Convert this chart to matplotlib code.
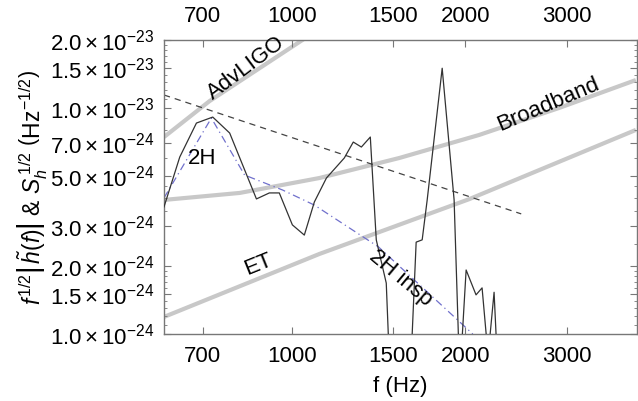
import matplotlib
matplotlib.use("Agg")
import matplotlib.pyplot as plt
from matplotlib.ticker import FixedLocator, FixedFormatter, LogLocator, NullFormatter, NullLocator

plt.rcParams['font.family'] = ['Liberation Sans', 'DejaVu Sans']
plt.rcParams['mathtext.fontset'] = 'custom'
plt.rcParams['mathtext.rm'] = 'Liberation Sans'
plt.rcParams['mathtext.it'] = 'Liberation Sans:italic'
plt.rcParams['mathtext.bf'] = 'Liberation Sans:bold'

# ---- data ----
h2_f = [600, 639, 683, 729, 780, 868, 914, 951, 1002, 1051, 1094, 1148, 1233, 1278, 1320, 1368,
        1401, 1458, 1475, 1611, 1643, 1683, 1717, 1823, 1912, 1950, 1966, 2006, 2087, 2138,
        2190, 2243, 2270]
h2_v = [3.65e-24, 6.07e-24, 8.58e-24, 9.12e-24, 7.75e-24, 3.96e-24, 4.21e-24, 4.21e-24, 3.04e-24,
        2.74e-24, 3.84e-24, 4.90e-24, 6.01e-24, 7.07e-24, 6.72e-24, 7.44e-24,
        2.61e-24, 1.68e-24, 8.0e-25, 8.0e-25, 2.55e-24, 2.61e-24, 3.92e-24, 1.50e-23, 3.92e-24,
        8.0e-25, 8.0e-25, 1.92e-24, 1.49e-24, 1.60e-24, 8.0e-25, 1.53e-24, 8.0e-25]

insp_f = [600, 725, 828, 963, 1094, 1413, 2060]
insp_v = [4.0e-24, 9.03e-24, 5.05e-24, 4.34e-24, 3.72e-24, 2.43e-24, 1.0e-24]

dash_f = [600, 2500]
dash_v = [1.142e-23, 3.40e-24]

advligo_f = [600, 720, 1043, 1300]
advligo_v = [7.44e-24, 1.074e-23, 2.0e-23, 2.9e-23]

broad_f = [600, 812, 1116, 1536, 2113, 2906, 3952]
broad_v = [3.92e-24, 4.21e-24, 4.90e-24, 6.01e-24, 7.60e-24, 1.0e-23, 1.33e-23]

et_f = [600, 1116, 2030, 3952]
et_v = [1.19e-24, 2.26e-24, 3.95e-24, 8.0e-24]

x_ticks = [700, 1000, 1500, 2000, 3000]
y_ticks = [1.0e-24, 1.5e-24, 2.0e-24, 3.0e-24, 5.0e-24, 7.0e-24, 1.0e-23, 1.5e-23, 2.0e-23]
y_tick_labels = [r"$1.0\times10^{-24}$", r"$1.5\times10^{-24}$", r"$2.0\times10^{-24}$",
                 r"$3.0\times10^{-24}$", r"$5.0\times10^{-24}$", r"$7.0\times10^{-24}$",
                 r"$1.0\times10^{-23}$", r"$1.5\times10^{-23}$", r"$2.0\times10^{-23}$"]

fig = plt.figure(figsize=(6.38, 4.01), dpi=100)
ax = fig.add_axes([164/638, 1-334/401, (637-164)/638, (334-40)/401])
ax.set_xscale('log')
ax.set_yscale('log')
ax.set_xlim(600, 3970)
ax.set_ylim(1e-24, 2e-23)

grey = '#c8c8c8'
ax.plot(advligo_f, advligo_v, color=grey, lw=3.0, solid_capstyle='butt', zorder=1)
ax.plot(broad_f, broad_v, color=grey, lw=3.0, solid_capstyle='butt', zorder=1)
ax.plot(et_f, et_v, color=grey, lw=3.0, solid_capstyle='butt', zorder=1)
ax.plot(dash_f, dash_v, color='#444444', lw=0.9, dashes=(5, 4), zorder=2)
ax.plot(insp_f, insp_v, color='#7070cc', lw=0.9, dashes=(6, 3, 1, 3), zorder=2)
ax.plot(h2_f, h2_v, color='#333333', lw=0.9, zorder=3)

fs = 16
ax.text(832, 1.50e-23, 'AdvLIGO', rotation=37, fontsize=fs, ha='center', va='center')
ax.text(2786, 1.03e-23, 'Broadband', rotation=23, fontsize=fs, ha='center', va='center')
ax.text(698, 6.0e-24, '2H', fontsize=fs, ha='center', va='center')
ax.text(875, 2.02e-24, 'ET', rotation=22, fontsize=fs, ha='center', va='center')
ax.text(1544, 1.77e-24, '2H insp', rotation=-40, fontsize=fs, ha='center', va='center')

spine_c = '#777777'
for s in ax.spines.values():
    s.set_color(spine_c)
    s.set_linewidth(1.0)

ax.xaxis.set_major_locator(FixedLocator(x_ticks))
ax.xaxis.set_major_formatter(FixedFormatter([str(t) for t in x_ticks]))
ax.xaxis.set_minor_locator(NullLocator())
ax.xaxis.set_minor_formatter(NullFormatter())
ax.yaxis.set_major_locator(FixedLocator(y_ticks))
ax.yaxis.set_major_formatter(FixedFormatter(y_tick_labels))
ax.yaxis.set_minor_locator(LogLocator(base=10, subs=[1.1, 1.2, 1.3, 1.4, 1.6, 1.7, 1.8, 1.9, 2.5, 3.5, 4, 4.5, 6, 8, 9], numticks=20))
ax.yaxis.set_minor_formatter(NullFormatter())

ax.tick_params(which='major', direction='in', length=5, width=0.8, color=spine_c,
               labelsize=fs, top=True, right=True, labeltop=True)
ax.tick_params(which='minor', direction='in', length=2.5, width=0.6, color=spine_c,
               left=True, right=True)
ax.tick_params(axis='x', which='major', pad=9)
ax.tick_params(axis='y', which='major', pad=7)

ax.set_xlabel('f (Hz)', fontsize=fs, labelpad=6)
ax.set_ylabel(r"$f^{1/2}\left|\,\tilde{h}(f)\right|$ & $S_h^{\,1/2}$ $\left(\mathrm{Hz}^{-1/2}\right)$",
              fontsize=16.5, labelpad=0)

fig.savefig('out.png', dpi=100)
